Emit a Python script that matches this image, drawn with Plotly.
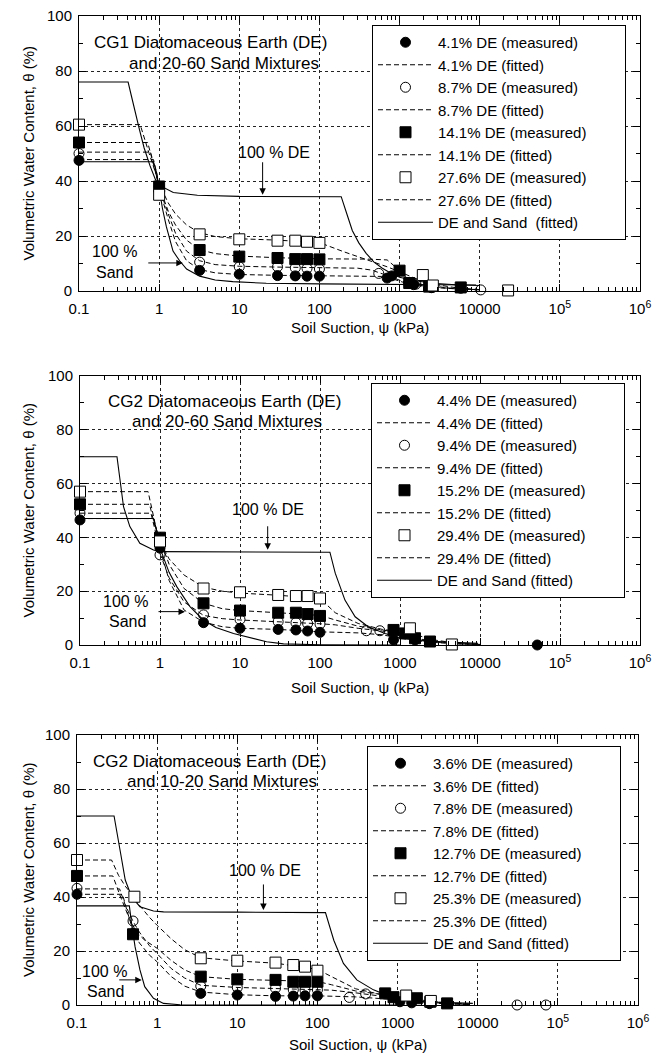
import numpy as np
import plotly.graph_objects as go

FONT = "Liberation Sans, Arial, Helvetica, sans-serif"

# ---------------- Panel A : CG1 DE + 20-60 sand ----------------
A_LABELS = ["4.1% DE", "8.7% DE", "14.1% DE", "27.6% DE"]
A1_MX = [0.1, 1.0, 3.2, 10, 30, 50, 70, 100, 700, 800, 1300, 1500, 2500, 5800]
A1_MY = [47.5, 38, 7.5, 6.1, 5.6, 5.5, 5.4, 5.4, 4.7, 5.5, 2.8, 2.3, 1.2, 1.0]
A2_MX = [0.1, 1.0, 3.2, 10, 30, 50, 70, 100, 550, 1600, 2600, 10300]
A2_MY = [50, 36, 10.5, 8.8, 8.8, 8.4, 8.2, 8.0, 6.4, 2.5, 1.5, 0.4]
A3_MX = [0.1, 1.0, 3.2, 10, 30, 50, 70, 100, 1000, 1320, 2340, 5800]
A3_MY = [54, 38, 14.9, 12.5, 12, 11.6, 11.6, 11.5, 7.4, 2.9, 1.6, 1.3]
A4_MX = [0.1, 1.0, 3.2, 10, 30, 50, 70, 100, 1950, 2600, 22600]
A4_MY = [60.5, 35, 20.6, 18.8, 18.3, 18.3, 17.9, 17.5, 5.8, 2.0, 0.2]

A1_FX = [0.1, 0.85, 0.93, 1.0, 1.3, 1.6, 2.2, 3.2, 5, 10, 30, 100, 300, 600, 800, 1100, 1600, 2500, 5000, 10000]
A1_FY = [47.8, 47.8, 43, 37.5, 26, 18, 11, 7.8, 6.6, 6.0, 5.7, 5.6, 5.5, 5.3, 4.5, 3.2, 2.0, 1.3, 0.8, 0.5]
A2_FX = [0.1, 0.78, 0.88, 1.0, 1.3, 1.6, 2.2, 3.2, 5, 10, 30, 100, 300, 450, 600, 800, 1100, 2000, 5000, 10000]
A2_FY = [50.5, 50.5, 45, 37.5, 28, 21, 14.5, 11, 9.6, 9.0, 8.7, 8.5, 8.3, 7.6, 6.4, 5.0, 3.5, 1.8, 0.8, 0.4]
A3_FX = [0.1, 0.72, 0.85, 1.0, 1.3, 1.6, 2.2, 3.2, 5, 10, 30, 100, 400, 700, 1000, 1300, 2000, 4000, 10000]
A3_FY = [54, 54, 46, 38, 29, 24, 18.5, 15, 13.6, 12.7, 12.1, 11.7, 11.6, 11.3, 7.5, 4.2, 2.3, 1.1, 0.4]
A4_FX = [0.1, 0.58, 0.75, 1.0, 1.3, 1.6, 2.2, 3.2, 5, 10, 30, 100, 200, 400, 700, 1000, 1500, 2500, 5000, 10000]
A4_FY = [60.5, 60.5, 50, 39, 32, 28, 24, 21.2, 19.8, 19, 18.5, 17.6, 14.3, 11.3, 8.8, 7.0, 4.8, 2.6, 1.2, 0.5]

A_DE_X = [0.1, 0.41, 0.45, 0.5, 0.57, 0.65, 0.77, 0.9, 1.0, 1.5, 3, 10, 30, 187, 220, 257, 310, 383, 480, 610, 800, 1000, 1500, 2600, 5000, 10000]
A_DE_Y = [76, 76, 71, 65, 58.5, 52, 45.5, 40.5, 38.5, 35.8, 34.8, 34.4, 34.3, 34.3, 28, 22, 17.5, 13.7, 10.5, 8.3, 6.3, 5.0, 3.8, 2.8, 2.3, 2.0]
A_SAND_X = [0.1, 0.85, 0.93, 1.0, 1.1, 1.23, 1.49, 1.8, 2.2, 3.2, 5, 8.3, 21.7, 100, 1000, 9000]
A_SAND_Y = [47, 47, 43, 37.5, 30, 23.4, 14.5, 11, 8, 5.4, 4.0, 3.4, 2.8, 2.6, 2.4, 2.2]

# ---------------- Panel B : CG2 DE + 20-60 sand ----------------
B_LABELS = ["4.4% DE", "9.4% DE", "15.2% DE", "29.4% DE"]
B1_MX = [0.1, 1.0, 3.5, 10, 30, 50, 70, 100, 830, 1540, 52000]
B1_MY = [46.5, 36, 8.3, 6.2, 5.8, 5.6, 5.2, 4.7, 1.9, 1.9, 0]
B2_MX = [0.1, 1.0, 3.5, 10, 30, 50, 70, 100, 380, 560]
B2_MY = [49, 33.5, 11.2, 9.5, 8.7, 8.3, 8.0, 7.8, 5.3, 5.3]
B3_MX = [0.1, 1.0, 3.5, 10, 30, 50, 70, 100, 830, 1150, 1540, 2370]
B3_MY = [52.3, 39.9, 15.5, 12.8, 12, 12, 11.5, 10.8, 5.6, 4.3, 2.5, 1.3]
B4_MX = [0.1, 1.0, 3.5, 10, 30, 50, 70, 100, 1330, 4450]
B4_MY = [57, 38.5, 21, 19.6, 18.6, 18.2, 18.2, 17.3, 6.2, 0.2]

B1_FX = [0.1, 0.83, 0.9, 1.0, 1.3, 2.0, 3.5, 6, 10, 30, 100, 155, 300, 600, 1000, 2000, 5000, 10000]
B1_FY = [47, 47, 43, 36, 24, 13, 8.5, 6.8, 6.2, 5.8, 4.9, 4.8, 4.5, 3.8, 2.5, 1.2, 0.4, 0.1]
B2_FX = [0.1, 0.77, 0.88, 1.0, 1.3, 2.0, 3.5, 6, 10, 30, 100, 155, 300, 600, 1000, 2000, 5000, 10000]
B2_FY = [49, 49, 42, 34, 25, 16, 11, 9.8, 9.3, 8.7, 7.9, 7.5, 6.2, 5.2, 3.6, 1.6, 0.5, 0.2]
B3_FX = [0.1, 0.74, 0.85, 1.0, 1.3, 2.0, 3.5, 6, 10, 30, 100, 155, 300, 600, 1000, 1500, 2500, 5000, 10000]
B3_FY = [52.3, 52.3, 45, 39.5, 30, 21, 15.5, 13.5, 12.8, 12, 11, 9.3, 7.0, 5.6, 4.5, 2.8, 1.3, 0.5, 0.2]
B4_FX = [0.1, 0.71, 0.8, 0.9, 1.0, 1.3, 2.0, 3.5, 6, 10, 30, 100, 155, 300, 600, 1300, 2500, 5000, 10000]
B4_FY = [57, 57, 50, 43, 38.5, 32, 26, 21.5, 20, 19.3, 18.5, 17.3, 12, 8, 5.8, 4.6, 2.0, 0.7, 0.3]

B_DE_X = [0.1, 0.29, 0.35, 0.42, 0.56, 0.83, 1.0, 3, 10, 133, 155, 205, 275, 400, 650, 1050, 2000, 4000, 9400]
B_DE_Y = [70, 70, 51.4, 44, 37.8, 35.3, 34.7, 34.7, 34.7, 34.5, 26.7, 16.7, 10.5, 6.8, 4.3, 2.5, 1.5, 1.0, 0.6]
B_SAND_X = [0.1, 0.83, 0.9, 1.0, 1.3, 1.62, 2.37, 3.47, 5, 8.3, 21.5, 35, 100, 1000]
B_SAND_Y = [47, 47, 43, 36, 27, 21.7, 14.3, 9.3, 6.5, 4.3, 1.2, 0.4, 0.1, 0]

# ---------------- Panel C : CG2 DE + 10-20 sand ----------------
C_LABELS = ["3.6% DE", "7.8% DE", "12.7% DE", "25.3% DE"]
C1_MX = [0.1, 0.5, 3.5, 10, 30, 50, 70, 100, 1070, 1500, 2500]
C1_MY = [41, 26.5, 4.3, 3.7, 3.2, 3.3, 3.4, 3.4, 1.2, 0.8, 0.5]
C2_MX = [0.1, 0.5, 3.5, 10, 30, 50, 70, 100, 250, 400, 31000, 71000]
C2_MY = [43.2, 31.1, 7.0, 6.5, 6.2, 5.6, 5.6, 5.6, 2.8, 4.1, 0, 0]
C3_MX = [0.1, 0.5, 3.5, 10, 30, 50, 70, 100, 700, 890, 1740, 2560, 4150]
C3_MY = [47.8, 26.2, 10.5, 9.5, 9.3, 8.6, 8.6, 8.6, 4.3, 2.9, 2.5, 1.2, 0.6]
C4_MX = [0.1, 0.52, 3.5, 10, 30, 50, 70, 100, 1280, 2600]
C4_MY = [53.7, 40.1, 17.3, 16.4, 15.7, 14.8, 14.2, 12.7, 3.5, 1.5]

C1_FX = [0.1, 0.37, 0.42, 0.5, 0.6, 0.8, 1.0, 1.5, 2.2, 3.5, 10, 30, 100, 150, 300, 600, 1000, 2000, 4000, 8000]
C1_FY = [41, 41, 35, 27.5, 23, 18.5, 16, 10.5, 7, 4.8, 3.8, 3.4, 3.4, 3.3, 3.0, 2.4, 1.8, 1.0, 0.4, 0.1]
C2_FX = [0.1, 0.34, 0.4, 0.5, 0.6, 0.8, 1.0, 1.5, 2.2, 3.5, 10, 30, 100, 150, 300, 600, 1000, 2000, 4000, 8000]
C2_FY = [43, 43, 37, 31, 27, 22, 19, 13.5, 10, 7.3, 6.5, 6.1, 5.6, 5.5, 4.5, 3.5, 2.5, 1.3, 0.5, 0.2]
C3_FX = [0.1, 0.28, 0.35, 0.45, 0.55, 0.7, 1.0, 1.5, 2.2, 3.5, 10, 30, 100, 150, 300, 600, 1000, 2000, 4000, 8000]
C3_FY = [47.8, 47.8, 40, 32, 27, 24, 21, 16.5, 13, 10.5, 9.5, 9.2, 8.7, 7.5, 5.2, 4.0, 3.0, 1.8, 0.7, 0.3]
C4_FX = [0.1, 0.27, 0.33, 0.4, 0.5, 0.6, 0.8, 1.0, 1.5, 2.2, 3.5, 6, 10, 30, 100, 150, 300, 600, 1300, 3000, 8000]
C4_FY = [53.7, 53.7, 48, 44, 40.5, 37, 32.5, 29.5, 24.5, 20.5, 17.5, 16.8, 16.3, 15.5, 13.2, 10.5, 6.0, 4.0, 3.0, 1.2, 0.3]

C_DE_X = [0.1, 0.29, 0.35, 0.40, 0.48, 0.61, 0.9, 1.2, 10, 126, 160, 211, 310, 500, 810, 2100, 8700]
C_DE_Y = [70, 70, 56.2, 46.3, 40.1, 36.4, 34.8, 34.5, 34.4, 34.2, 24, 15.4, 9.3, 5.6, 3.1, 1.2, 0.6]
C_SAND_X = [0.1, 0.45, 0.48, 0.53, 0.61, 0.70, 0.9, 1.2, 1.93, 10, 1000]
C_SAND_Y = [36.7, 36.7, 30.2, 21.6, 13, 6.8, 2.5, 0.6, 0.1, 0, 0]

# ---------------- axis ticks / titles ----------------
X_TICKS = [0.1, 1, 10, 100, 1000, 10000, 1e5, 1e6]
X_TICKTEXT = ["0.1", "1", "10", "100", "1000", "10000", "10<sup>5</sup>", "10<sup>6</sup>"]
Y_TICKS = [0, 20, 40, 60, 80, 100]
X_TITLE = "Soil Suction, \u03c8 (kPa)"
Y_TITLE = "Volumetric Water Content, \u03b8 (%)"

# page is 670x1055; the html body adds an 8 px margin, so the figure is 8 px smaller
OFF = 8
W, H = 670 - OFF, 1055 - OFF
# page-pixel boxes (left, right, top, bottom) of each plot area
BOXES = [(79, 640, 16, 291), (80, 640, 376, 645), (77, 638, 735, 1005)]
LEG_POS = [(372, 25), (371, 383), (367, 746)]
XTITLE_Y = [327, 687, 1044]
YTITLE_X = 28
PAD = "\u00a0" * 8 + "\u200b"

panels = [
    dict(labels=A_LABELS,
         meas=[(A1_MX, A1_MY), (A2_MX, A2_MY), (A3_MX, A3_MY), (A4_MX, A4_MY)],
         fit=[(A1_FX, A1_FY), (A2_FX, A2_FY), (A3_FX, A3_FY), (A4_FX, A4_FY)],
         de=(A_DE_X, A_DE_Y), sand=(A_SAND_X, A_SAND_Y),
         solid_name="DE and Sand\u00a0 (fitted)",
         title=("CG1 Diatomaceous Earth (DE)", "and 20-60 Sand Mixtures")),
    dict(labels=B_LABELS,
         meas=[(B1_MX, B1_MY), (B2_MX, B2_MY), (B3_MX, B3_MY), (B4_MX, B4_MY)],
         fit=[(B1_FX, B1_FY), (B2_FX, B2_FY), (B3_FX, B3_FY), (B4_FX, B4_FY)],
         de=(B_DE_X, B_DE_Y), sand=(B_SAND_X, B_SAND_Y),
         solid_name="DE and Sand (fitted)",
         title=("CG2 Diatomaceous Earth (DE)", "and 20-60 Sand Mixtures")),
    dict(labels=C_LABELS,
         meas=[(C1_MX, C1_MY), (C2_MX, C2_MY), (C3_MX, C3_MY), (C4_MX, C4_MY)],
         fit=[(C1_FX, C1_FY), (C2_FX, C2_FY), (C3_FX, C3_FY), (C4_FX, C4_FY)],
         de=(C_DE_X, C_DE_Y), sand=(C_SAND_X, C_SAND_Y),
         solid_name="DE and Sand (fitted)",
         title=("CG2 Diatomaceous Earth (DE)", "and 10-20 Sand Mixtures")),
]

# annotation placement (log10 x, theta) per panel
ANN = [
    dict(t1=(0.644, 90.2), t2=(0.806, 82.9), de_txt=(1.428, 50.5), de_tip=(1.291, 35.0), de_ay=-34,
         s1=(-0.552, 14.2), s2=(-0.552, 6.6), s_tip=(0.295, 10.2), s_ax=-36),
    dict(t1=(0.80, 90.4), t2=(0.84, 83.0), de_txt=(1.344, 50.2), de_tip=(1.346, 35.4), de_ay=-25,
         s1=(-0.437, 16.1), s2=(-0.41, 8.7), s_tip=(0.3125, 12.4), s_ax=-28),
    dict(t1=(0.648, 90.1), t2=(0.804, 82.7), de_txt=(1.347, 50.0), de_tip=(1.326, 35.2), de_ay=-27,
         s1=(-0.663, 12.3), s2=(-0.65, 4.9), s_tip=(-0.192, 9.3), s_ax=-24),
]

MARKERS = [
    dict(symbol="circle", size=10, color="black", line=dict(color="black", width=1)),
    dict(symbol="circle-open", size=10, color="black", line=dict(color="black", width=1)),
    dict(symbol="square", size=11, color="black", line=dict(color="black", width=1)),
    dict(symbol="square", size=11, color="white", line=dict(color="black", width=1)),
]

x_minor = [m * 10.0 ** e for e in range(-1, 6) for m in range(2, 10)]

fig = go.Figure()
annotations = []
layout = dict(width=W, height=H, autosize=False,
              margin=dict(l=0, r=0, t=0, b=0, pad=0, autoexpand=False),
              paper_bgcolor="white", plot_bgcolor="white",
              font=dict(family=FONT, size=15, color="black"))

for i, p in enumerate(panels):
    sfx = "" if i == 0 else str(i + 1)
    xa, ya = "x" + sfx, "y" + sfx
    leg = "legend" + sfx
    l, r, t, b = BOXES[i]
    # fitted dashed curves
    for k in range(4):
        fx, fy = p["fit"][k]
        fig.add_trace(go.Scatter(x=fx, y=fy, mode="lines", xaxis=xa, yaxis=ya, legend=leg,
                                 name=p["labels"][k] + " (fitted)", legendrank=10 * k + 2,
                                 line=dict(color="black", width=1, dash="5px,3px")))
    # 100% DE and 100% sand solid curves
    fig.add_trace(go.Scatter(x=p["de"][0], y=p["de"][1], mode="lines", xaxis=xa, yaxis=ya,
                             legend=leg, name=p["solid_name"], legendrank=100,
                             line=dict(color="black", width=1.1)))
    fig.add_trace(go.Scatter(x=p["sand"][0], y=p["sand"][1], mode="lines", xaxis=xa, yaxis=ya,
                             legend=leg, showlegend=False,
                             line=dict(color="black", width=1.1)))
    # measured markers
    for k in range(4):
        mx, my = p["meas"][k]
        fig.add_trace(go.Scatter(x=mx, y=my, mode="markers", xaxis=xa, yaxis=ya, legend=leg,
                                 name=p["labels"][k] + " (measured)" + PAD, legendrank=10 * k + 1,
                                 marker=MARKERS[k], cliponaxis=False))

    layout["xaxis" + sfx] = dict(
        type="log", range=[-1, 6], domain=[(l - OFF) / W, (r - OFF) / W], anchor=ya, automargin=False,
        tickvals=X_TICKS, ticktext=X_TICKTEXT, ticks="inside", ticklen=7, tickwidth=1,
        tickcolor="black", showline=True, linecolor="black", linewidth=1, mirror="ticks",
        showgrid=True, gridcolor="#222", griddash="dot", gridwidth=1, zeroline=False,
        ticklabelstandoff=4, ticklabeloverflow="allow",
        tickfont=dict(family=FONT, size=15, color="black"),
        minor=dict(tickvals=x_minor, ticks="inside", ticklen=4, tickcolor="black", showgrid=False))
    layout["yaxis" + sfx] = dict(
        range=[0, 100], domain=[1 - (b - OFF) / H, 1 - (t - OFF) / H], anchor=xa, automargin=False,
        tickvals=Y_TICKS, ticks="inside", ticklen=7, tickwidth=1, tickcolor="black",
        showline=True, linecolor="black", linewidth=1, mirror="ticks",
        showgrid=True, gridcolor="#222", griddash="dot", gridwidth=1, zeroline=False,
        ticklabelstandoff=3, ticklabeloverflow="allow",
        tickfont=dict(family=FONT, size=15, color="black"),
        minor=dict(dtick=10, ticks="inside", ticklen=4, tickcolor="black", showgrid=False))
    lx, ly = LEG_POS[i]
    layout[leg] = dict(x=(lx - OFF) / W, y=1 - (ly - OFF) / H, xanchor="left", yanchor="top",
                       bordercolor="black", borderwidth=1, bgcolor="white",
                       font=dict(family=FONT, size=15, color="black"), itemwidth=55,
                       tracegroupgap=0)

    # axis titles
    annotations.append(dict(xref="paper", yref="paper", x=((l + r) / 2 - OFF) / W,
                            y=1 - (XTITLE_Y[i] - OFF) / H, text=X_TITLE, showarrow=False,
                            xanchor="center", yanchor="middle",
                            font=dict(family=FONT, size=15, color="black")))
    annotations.append(dict(xref="paper", yref="paper", x=(YTITLE_X - OFF) / W,
                            y=1 - ((t + b) / 2 - OFF) / H, text=Y_TITLE, showarrow=False,
                            textangle=-90, xanchor="center", yanchor="middle",
                            font=dict(family=FONT, size=15, color="black")))

    a = ANN[i]
    common = dict(xref=xa, yref=ya, showarrow=False, font=dict(family=FONT, size=17, color="black"))
    small = dict(xref=xa, yref=ya, showarrow=False, font=dict(family=FONT, size=16, color="black"))
    annotations.append(dict(x=a["t1"][0], y=a["t1"][1], text=p["title"][0], **common))
    annotations.append(dict(x=a["t2"][0], y=a["t2"][1], text=p["title"][1], **common))
    annotations.append(dict(x=a["de_txt"][0], y=a["de_txt"][1], text="100 % DE", **small))
    annotations.append(dict(x=a["s1"][0], y=a["s1"][1], text="100 %", **small))
    annotations.append(dict(x=a["s2"][0], y=a["s2"][1], text="Sand", **small))
    annotations.append(dict(x=a["de_tip"][0], y=a["de_tip"][1], xref=xa, yref=ya, text="",
                            showarrow=True, arrowhead=2, arrowsize=1.3, arrowwidth=1,
                            arrowcolor="black", ax=0, ay=a["de_ay"]))
    annotations.append(dict(x=a["s_tip"][0], y=a["s_tip"][1], xref=xa, yref=ya, text="",
                            showarrow=True, arrowhead=2, arrowsize=1.3, arrowwidth=1,
                            arrowcolor="black", ax=a["s_ax"], ay=0))

layout["annotations"] = annotations
fig.update_layout(**layout)
fig.write_html("out.html")
